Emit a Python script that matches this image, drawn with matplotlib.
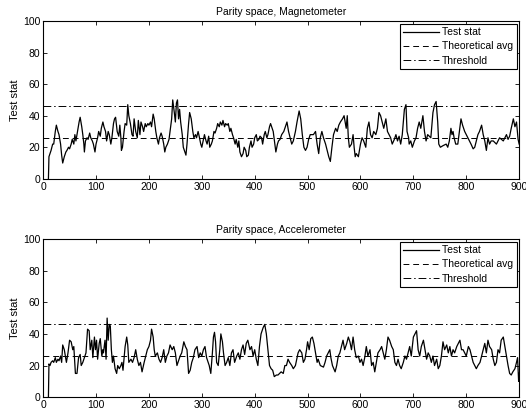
import numpy as np
import matplotlib
matplotlib.use('Agg')
import matplotlib.pyplot as plt

plt.rcParams['font.family'] = ['Liberation Sans', 'DejaVu Sans']
plt.rcParams['font.size'] = 7.5

# Magnetometer test statistic (sample index, value)
mag_x = [10, 11, 15, 18, 20, 23, 25, 28, 30, 33, 35, 37, 40, 43, 45, 48, 50, 53, 55, 58,
         60, 62, 65, 68, 70, 73, 75, 77, 78, 80, 83, 85, 88, 90, 93, 95, 98, 100, 103, 105,
         108, 110, 113, 115, 118, 120, 123, 125, 128, 130, 133, 135, 137, 140, 143, 145, 147, 148, 150, 153,
         155, 158, 160, 162, 165, 168, 170, 172, 175, 178, 180, 183, 185, 188, 190, 193, 195, 198, 200, 203,
         205, 208, 210, 213, 215, 218, 220, 223, 225, 228, 230, 232, 235, 238, 240, 243, 245, 248, 250, 252,
         254, 256, 258, 260, 263, 265, 268, 270, 272, 275, 277, 280, 283, 285, 288, 290, 293, 295, 298, 300,
         303, 305, 308, 310, 313, 315, 318, 320, 323, 325, 328, 330, 333, 335, 338, 340, 343, 345, 348, 350,
         353, 355, 358, 360, 363, 365, 368, 370, 372, 375, 378, 380, 383, 385, 388, 390, 393, 395, 398, 400,
         403, 405, 408, 410, 413, 415, 418, 420, 423, 425, 428, 430, 433, 435, 438, 440, 443, 445, 448, 451,
         455, 458, 461, 464, 467, 470, 473, 477, 480, 484, 487, 490, 493, 496, 499, 502, 505, 511, 515, 518,
         521, 524, 527, 530, 534, 537, 540, 543, 546, 549, 553, 556, 559, 562, 566, 569, 571, 573, 575, 577,
         579, 583, 586, 588, 590, 592, 596, 598, 600, 603, 606, 610, 613, 616, 619, 622, 625, 629, 632, 635,
         638, 641, 644, 648, 651, 654, 657, 660, 664, 667, 670, 673, 676, 679, 683, 686, 688, 691, 692, 695,
         698, 702, 705, 708, 711, 714, 718, 721, 724, 727, 730, 733, 737, 740, 743, 746, 748, 751, 756, 762,
         765, 768, 771, 773, 775, 777, 780, 784, 787, 790, 793, 797, 800, 803, 806, 809, 813, 816, 819, 822,
         825, 829, 832, 835, 838, 841, 844, 847, 851, 857, 863, 870, 876, 879, 882, 885, 889, 892, 895, 898,
         900]
mag_y = [0, 14, 18, 22, 22, 30, 34, 30, 28, 22, 15, 10, 14, 17, 18, 20, 19, 22, 25, 22,
         28, 24, 30, 36, 39, 33, 28, 22, 17, 24, 26, 25, 29, 26, 24, 22, 17, 22, 26, 30,
         27, 32, 36, 33, 30, 24, 30, 28, 22, 26, 35, 38, 39, 30, 27, 34, 26, 18, 20, 30,
         35, 34, 47, 40, 35, 28, 27, 38, 30, 26, 37, 28, 36, 33, 30, 35, 33, 35, 34, 36,
         33, 41, 38, 30, 26, 22, 26, 29, 27, 22, 17, 20, 22, 25, 30, 38, 50, 42, 36, 48,
         50, 38, 44, 36, 28, 20, 17, 15, 22, 35, 42, 38, 30, 26, 28, 26, 30, 27, 22, 20,
         25, 28, 24, 22, 27, 20, 22, 24, 30, 29, 32, 35, 33, 36, 34, 37, 33, 35, 34, 35,
         30, 32, 28, 26, 22, 25, 20, 24, 17, 14, 16, 20, 18, 14, 15, 20, 24, 20, 22, 26,
         28, 24, 25, 27, 26, 22, 28, 30, 26, 28, 33, 35, 32, 30, 22, 17, 22, 24, 25, 28,
         30, 33, 36, 30, 26, 22, 24, 30, 36, 43, 38, 28, 20, 18, 20, 25, 28, 28, 30, 22,
         16, 26, 30, 26, 22, 18, 14, 11, 20, 28, 32, 30, 34, 36, 38, 40, 36, 32, 40, 26,
         20, 22, 28, 20, 14, 16, 14, 18, 22, 26, 24, 20, 32, 36, 28, 26, 30, 28, 32, 42,
         40, 36, 32, 38, 30, 28, 26, 22, 25, 28, 24, 27, 22, 28, 44, 47, 30, 26, 22, 24,
         20, 24, 26, 32, 36, 32, 40, 30, 24, 28, 27, 26, 42, 47, 49, 36, 22, 20, 21, 22,
         20, 24, 32, 28, 30, 26, 22, 22, 30, 38, 34, 30, 28, 26, 24, 22, 19, 20, 24, 28,
         30, 34, 28, 24, 18, 26, 22, 24, 24, 22, 26, 24, 28, 25, 27, 32, 38, 33, 36, 25,
         22]

# Accelerometer test statistic
acc_x = [10, 11, 13, 15, 18, 20, 23, 25, 28, 30, 33, 35, 37, 40, 42, 44, 47, 50, 53, 56,
         58, 61, 64, 67, 70, 72, 75, 78, 81, 84, 87, 89, 92, 94, 97, 99, 101, 103, 106, 108,
         111, 113, 114, 117, 119, 121, 123, 125, 127, 129, 131, 133, 136, 139, 141, 144, 147, 149, 151, 155,
         158, 160, 162, 166, 169, 172, 175, 178, 181, 184, 187, 191, 194, 197, 200, 203, 205, 208, 210, 212,
         216, 219, 222, 225, 228, 231, 234, 237, 240, 244, 247, 250, 253, 256, 259, 262, 266, 269, 272, 275,
         278, 281, 284, 287, 291, 294, 297, 300, 303, 306, 309, 314, 317, 320, 322, 324, 326, 328, 331, 334,
         336, 339, 341, 344, 347, 350, 353, 356, 359, 362, 366, 369, 372, 375, 378, 381, 384, 387, 391, 394,
         397, 400, 403, 406, 409, 412, 416, 419, 422, 425, 428, 431, 434, 437, 441, 444, 447, 450, 454, 457,
         460, 463, 466, 470, 473, 477, 482, 485, 489, 492, 495, 498, 500, 503, 506, 509, 512, 515, 518, 520,
         524, 530, 533, 536, 539, 542, 544, 547, 552, 555, 558, 561, 564, 567, 570, 574, 577, 580, 583, 586,
         589, 592, 596, 599, 602, 605, 608, 611, 614, 618, 621, 624, 627, 630, 633, 637, 640, 643, 646, 649,
         652, 655, 659, 662, 665, 668, 671, 674, 677, 681, 684, 687, 690, 693, 696, 700, 703, 706, 709, 712,
         715, 719, 722, 725, 728, 731, 734, 737, 740, 744, 747, 750, 753, 756, 759, 763, 766, 769, 772, 775,
         778, 782, 785, 788, 791, 794, 797, 800, 804, 807, 810, 813, 816, 819, 822, 826, 829, 832, 835, 838,
         841, 844, 848, 851, 854, 857, 860, 863, 866, 870, 873, 876, 879, 882, 885, 888, 892, 895, 897, 899,
         900]
acc_y = [0, 21, 20, 22, 23, 22, 25, 22, 24, 23, 26, 22, 33, 30, 26, 22, 28, 36, 35, 30,
         32, 15, 15, 25, 27, 20, 22, 25, 28, 43, 42, 30, 36, 25, 38, 30, 36, 24, 34, 37,
         26, 30, 28, 36, 24, 50, 36, 46, 45, 30, 22, 26, 18, 15, 20, 18, 20, 22, 17, 32,
         38, 33, 22, 24, 22, 25, 30, 24, 20, 22, 16, 22, 26, 30, 32, 36, 43, 38, 30, 26,
         28, 24, 22, 25, 30, 22, 26, 28, 33, 30, 32, 28, 20, 23, 26, 28, 35, 32, 30, 15,
         17, 22, 25, 30, 32, 25, 28, 26, 30, 32, 25, 20, 15, 28, 38, 41, 35, 22, 20, 30,
         40, 35, 28, 20, 22, 25, 20, 28, 30, 22, 26, 28, 24, 30, 33, 27, 34, 36, 30, 32,
         26, 30, 24, 20, 32, 40, 44, 46, 40, 30, 20, 18, 17, 13, 14, 14, 15, 16, 15, 20,
         20, 24, 22, 20, 18, 20, 28, 30, 28, 22, 24, 30, 35, 30, 37, 38, 34, 28, 22, 24,
         20, 19, 22, 26, 28, 30, 25, 20, 16, 20, 26, 28, 32, 36, 30, 34, 38, 35, 30, 38,
         30, 25, 26, 22, 24, 20, 25, 32, 26, 30, 20, 22, 16, 22, 28, 30, 32, 28, 24, 30,
         38, 36, 32, 30, 22, 20, 24, 20, 18, 22, 26, 24, 28, 32, 26, 38, 40, 42, 30, 26,
         32, 36, 30, 24, 28, 26, 22, 26, 20, 24, 18, 20, 26, 35, 30, 33, 28, 32, 26, 30,
         28, 32, 34, 36, 30, 30, 28, 26, 32, 30, 26, 22, 20, 18, 20, 22, 26, 30, 34, 28,
         36, 32, 30, 24, 20, 22, 30, 28, 36, 38, 32, 26, 20, 15, 14, 16, 18, 22, 25, 10,
         15]

theoretical_avg = [26, 26]
threshold = [46, 46]
x_span = [0, 900]

titles = ['Parity space, Magnetometer', 'Parity space, Accelerometer']
series = [(mag_x, mag_y), (acc_x, acc_y)]

fig = plt.figure(figsize=(5.26, 4.12), dpi=100)
# axes boxes placed to match the reference pixel layout
boxes = [[0.082, 0.566, 0.905, 0.383], [0.082, 0.036, 0.905, 0.384]]

for box, title, (xs, ys) in zip(boxes, titles, series):
    ax = fig.add_axes(box)
    ax.plot(xs, ys, color='black', lw=0.9, label='Test stat')
    ax.plot(x_span, theoretical_avg, color='black', lw=0.7, ls=(0, (6, 4)), label='Theoretical avg')
    ax.plot(x_span, threshold, color='black', lw=0.7, ls=(0, (8, 3, 1.5, 3)), label='Threshold')
    ax.set_xlim(0, 900)
    ax.set_ylim(0, 100)
    ax.set_xticks(np.arange(0, 901, 100))
    ax.set_yticks(np.arange(0, 101, 20))
    ax.tick_params(direction='in', top=True, right=True, length=3, width=0.6, labelsize=7.5, pad=2)
    for sp in ax.spines.values():
        sp.set_linewidth(0.8)
    ax.set_title(title, fontsize=7.5, pad=4)
    ax.set_ylabel('Test stat', fontsize=8, labelpad=2)
    leg = ax.legend(loc='upper right', fontsize=7.5, frameon=True, fancybox=False,
                    edgecolor='black', framealpha=1, handlelength=3.4,
                    borderaxespad=0.25, borderpad=0.35, labelspacing=0.4, handletextpad=0.3)
    leg.get_frame().set_linewidth(0.8)

fig.savefig('out.png', dpi=100)
